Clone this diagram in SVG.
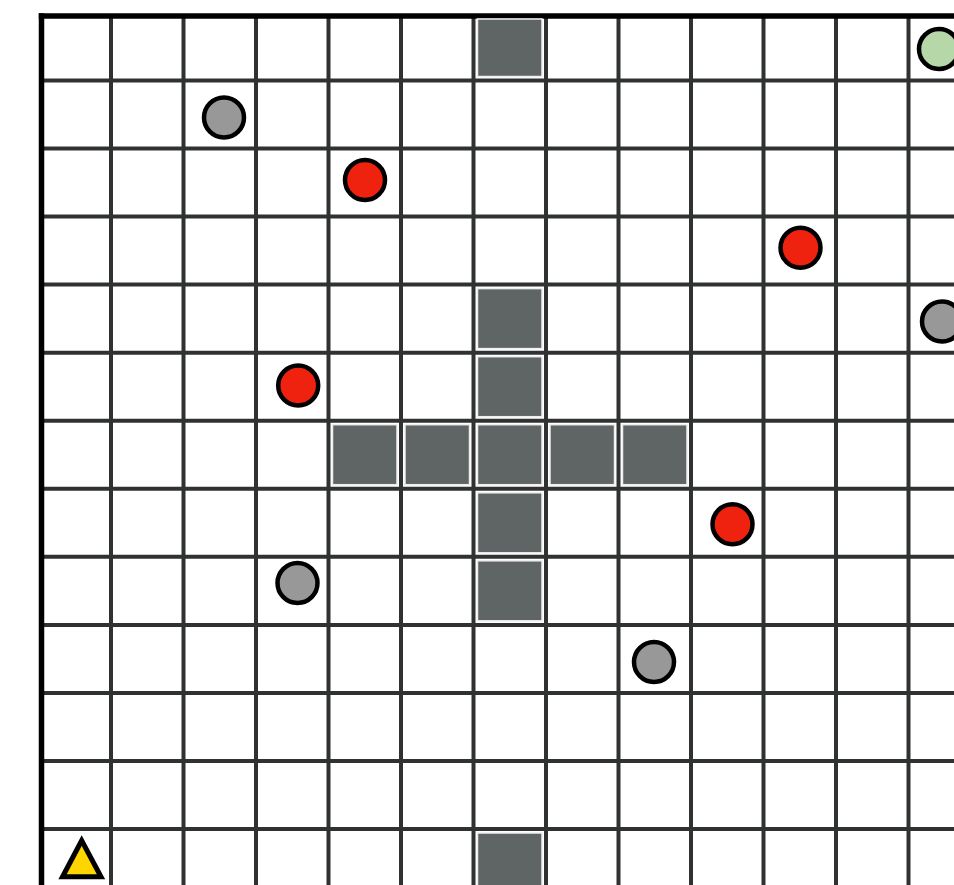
<svg xmlns="http://www.w3.org/2000/svg" width="954" height="885" viewBox="0 0 954 885">
<style>
.grid line{stroke:#303232;stroke-width:4}
.border line{stroke:#000;stroke-width:5.5}
.wall{fill:#5f6464;stroke:#eeeeee;stroke-width:1.5}
.tok{stroke:#000;stroke-width:4.5}
.gray{fill:#989898}
.red{fill:#ef220f}
.green{fill:#b6d7a8}
.start{fill:#ffd500;stroke:#000;stroke-width:5;stroke-linejoin:miter}
</style>
<rect width="954" height="885" fill="#ffffff"/>
<g id="grid" class="grid">
<line x1="111" y1="16" x2="111" y2="885"/>
<line x1="183.5" y1="16" x2="183.5" y2="885"/>
<line x1="256" y1="16" x2="256" y2="885"/>
<line x1="328.5" y1="16" x2="328.5" y2="885"/>
<line x1="401" y1="16" x2="401" y2="885"/>
<line x1="473.5" y1="16" x2="473.5" y2="885"/>
<line x1="546" y1="16" x2="546" y2="885"/>
<line x1="618.5" y1="16" x2="618.5" y2="885"/>
<line x1="691" y1="16" x2="691" y2="885"/>
<line x1="763.5" y1="16" x2="763.5" y2="885"/>
<line x1="836" y1="16" x2="836" y2="885"/>
<line x1="908.5" y1="16" x2="908.5" y2="885"/>
<line x1="41.5" y1="80.5" x2="954" y2="80.5"/>
<line x1="41.5" y1="148.5" x2="954" y2="148.5"/>
<line x1="41.5" y1="216.6" x2="954" y2="216.6"/>
<line x1="41.5" y1="284.6" x2="954" y2="284.6"/>
<line x1="41.5" y1="352.7" x2="954" y2="352.7"/>
<line x1="41.5" y1="420.7" x2="954" y2="420.7"/>
<line x1="41.5" y1="488.8" x2="954" y2="488.8"/>
<line x1="41.5" y1="556.8" x2="954" y2="556.8"/>
<line x1="41.5" y1="624.9" x2="954" y2="624.9"/>
<line x1="41.5" y1="692.9" x2="954" y2="692.9"/>
<line x1="41.5" y1="761" x2="954" y2="761"/>
<line x1="41.5" y1="829" x2="954" y2="829"/>
</g>
<g id="border" class="border">
<line x1="41.5" y1="13.3" x2="41.5" y2="885"/>
<line x1="38.8" y1="16" x2="954" y2="16"/>
</g>
<g id="walls">
<rect id="wall-0-6" class="wall" x="477.5" y="19" width="64.5" height="57.5"/>
<rect id="wall-4-6" class="wall" x="477.5" y="288.6" width="64.5" height="60"/>
<rect id="wall-5-6" class="wall" x="477.5" y="356.7" width="64.5" height="60"/>
<rect id="wall-6-4" class="wall" x="332.5" y="424.7" width="64.5" height="60"/>
<rect id="wall-6-5" class="wall" x="405" y="424.7" width="64.5" height="60"/>
<rect id="wall-6-6" class="wall" x="477.5" y="424.7" width="64.5" height="60"/>
<rect id="wall-6-7" class="wall" x="550" y="424.7" width="64.5" height="60"/>
<rect id="wall-6-8" class="wall" x="622.5" y="424.7" width="64.5" height="60"/>
<rect id="wall-7-6" class="wall" x="477.5" y="492.8" width="64.5" height="60"/>
<rect id="wall-8-6" class="wall" x="477.5" y="560.8" width="64.5" height="60"/>
<rect id="wall-12-6" class="wall" x="477.5" y="833" width="64.5" height="60"/>
</g>
<g id="goal"><circle class="tok green" cx="939" cy="49" r="20"/></g>
<g id="gray-1"><circle class="tok gray" cx="224" cy="117.5" r="20"/></g>
<g id="gray-2"><circle class="tok gray" cx="942" cy="321.5" r="20"/></g>
<g id="gray-3"><circle class="tok gray" cx="297.5" cy="583" r="20"/></g>
<g id="gray-4"><circle class="tok gray" cx="654" cy="662" r="20"/></g>
<g id="red-1"><circle class="tok red" cx="365" cy="180" r="20"/></g>
<g id="red-2"><circle class="tok red" cx="800.5" cy="247.8" r="20"/></g>
<g id="red-3"><circle class="tok red" cx="298.2" cy="385.5" r="20"/></g>
<g id="red-4"><circle class="tok red" cx="732.5" cy="524.3" r="20"/></g>
<g id="start"><polygon class="start" points="81.7,840.5 62.5,876.8 101,876.8"/></g>
</svg>
